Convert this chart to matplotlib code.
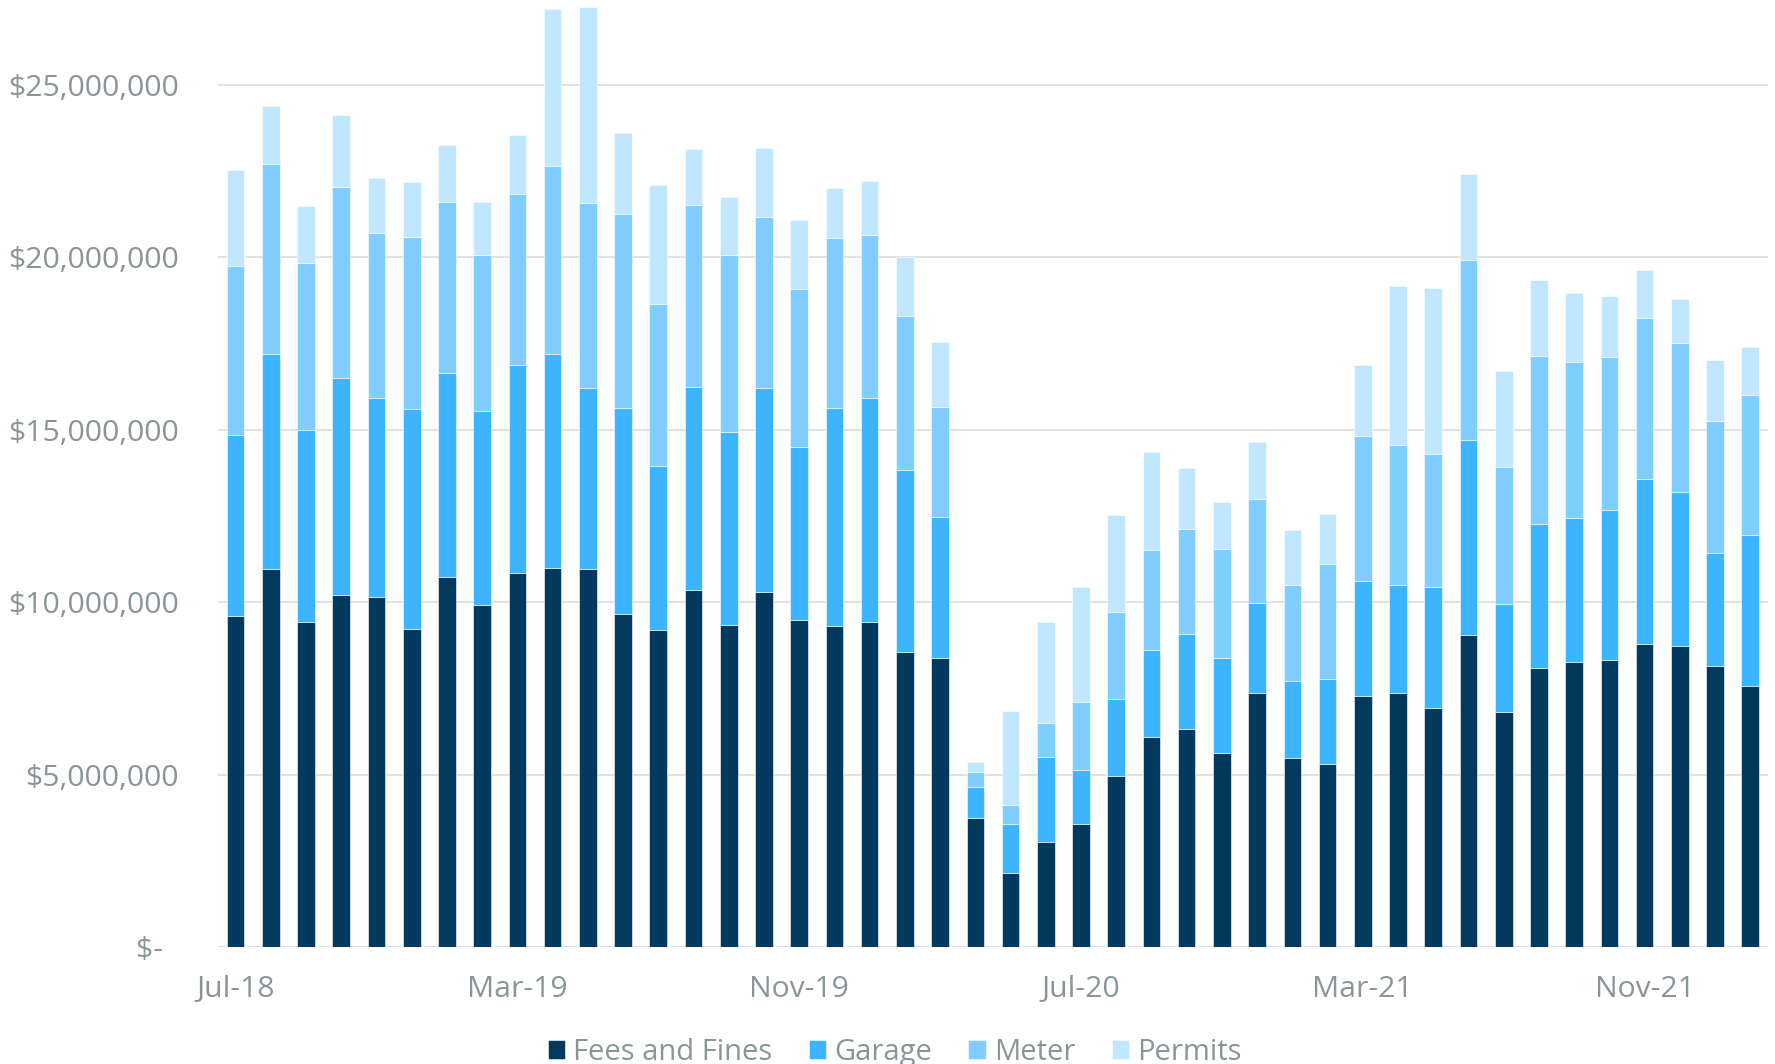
import matplotlib
matplotlib.use("Agg")
import matplotlib.pyplot as plt
from matplotlib.ticker import FuncFormatter
import numpy as np
import pandas as pd

# Monthly revenue by source, in millions of dollars (Jul-2018 .. Feb-2022)
months = pd.date_range("2018-07-01", periods=44, freq="MS").strftime("%b-%y").tolist()

fees_and_fines = [9.61, 10.96, 9.43, 10.20, 10.16, 9.21, 10.73, 9.92, 10.83, 10.98,
                  10.96, 9.65, 9.19, 10.35, 9.33, 10.28, 9.47, 9.31, 9.43, 8.56,
                  8.37, 3.74, 2.15, 3.05, 3.56, 4.96, 6.10, 6.32, 5.61, 7.36,
                  5.47, 5.31, 7.28, 7.36, 6.93, 9.06, 6.81, 8.09, 8.25, 8.31,
                  8.78, 8.72, 8.15, 7.56]
garage = [5.23, 6.24, 5.57, 6.30, 5.75, 6.40, 5.92, 5.61, 6.06, 6.21,
          5.24, 5.98, 4.75, 5.89, 5.61, 5.92, 5.04, 6.32, 6.48, 5.28,
          4.11, 0.89, 1.41, 2.46, 1.58, 2.23, 2.52, 2.75, 2.78, 2.62,
          2.23, 2.47, 3.33, 3.15, 3.50, 5.64, 3.13, 4.17, 4.19, 4.37,
          4.80, 4.47, 3.27, 4.39]
meter = [4.90, 5.50, 4.84, 5.53, 4.80, 4.98, 4.96, 4.53, 4.94, 5.45,
         5.36, 5.63, 4.70, 5.28, 5.12, 4.98, 4.56, 4.92, 4.74, 4.45,
         3.17, 0.45, 0.55, 0.97, 1.95, 2.51, 2.90, 3.04, 3.15, 3.01,
         2.81, 3.32, 4.21, 4.06, 3.86, 5.22, 3.98, 4.87, 4.51, 4.43,
         4.65, 4.33, 3.84, 4.07]
permits = [2.78, 1.69, 1.64, 2.10, 1.59, 1.58, 1.64, 1.53, 1.71, 4.56,
           5.70, 2.34, 3.45, 1.63, 1.69, 1.99, 2.01, 1.46, 1.57, 1.71,
           1.89, 0.29, 2.74, 2.95, 3.36, 2.82, 2.83, 1.79, 1.35, 1.64,
           1.58, 1.46, 2.07, 4.60, 4.82, 2.48, 2.79, 2.22, 2.01, 1.77,
           1.40, 1.26, 1.77, 1.38]

series_names = ["Fees and Fines", "Garage", "Meter", "Permits"]
series_colors = ["#023a5e", "#3db4ff", "#80cdff", "#c1e6ff"]

plt.rcParams["font.family"] = ["Open Sans", "DejaVu Sans"]
text_grey = "#8a9597"

fig = plt.figure(figsize=(17.75, 10.64), dpi=100)
ax = fig.add_axes([0.1228, 0.110, 0.8732, 0.890])

x = np.arange(len(months))
bottom = np.zeros(len(months))
for name, vals, col in zip(series_names,
                           [fees_and_fines, garage, meter, permits],
                           series_colors):
    v = np.array(vals) * 1e6
    ax.bar(x, v, width=0.5, bottom=bottom, color=col, label=name,
           edgecolor="white", linewidth=0.4, zorder=3)
    bottom += v

ax.set_xlim(-0.5, len(months) - 0.5)
ax.set_ylim(0, 27.46e6)

ax.set_yticks(np.arange(0, 25.1e6, 5e6))


def money(v, pos):
    if v == 0:
        return "$-  "
    return "${:,.0f}".format(v)


ax.yaxis.set_major_formatter(FuncFormatter(money))
tick_idx = x[::8]
ax.set_xticks(tick_idx)
ax.set_xticklabels([months[i] for i in tick_idx])

ax.tick_params(axis="y", length=0, pad=28, labelsize=21.7, labelcolor=text_grey)
ax.tick_params(axis="x", length=0, pad=20.5, labelsize=21.7, labelcolor=text_grey)

ax.grid(axis="y", color="#d9d9d9", linewidth=1.1, zorder=0)
ax.set_axisbelow(True)
for s in ax.spines.values():
    s.set_visible(False)

fig.legend(loc="center", bbox_to_anchor=(0.504, 0.011), ncol=4, frameon=False,
           fontsize=21, labelcolor=text_grey, handlelength=0.6, handleheight=0.6,
           handletextpad=0.28, columnspacing=1.24, borderpad=0)

fig.savefig("out.png", dpi=100)
